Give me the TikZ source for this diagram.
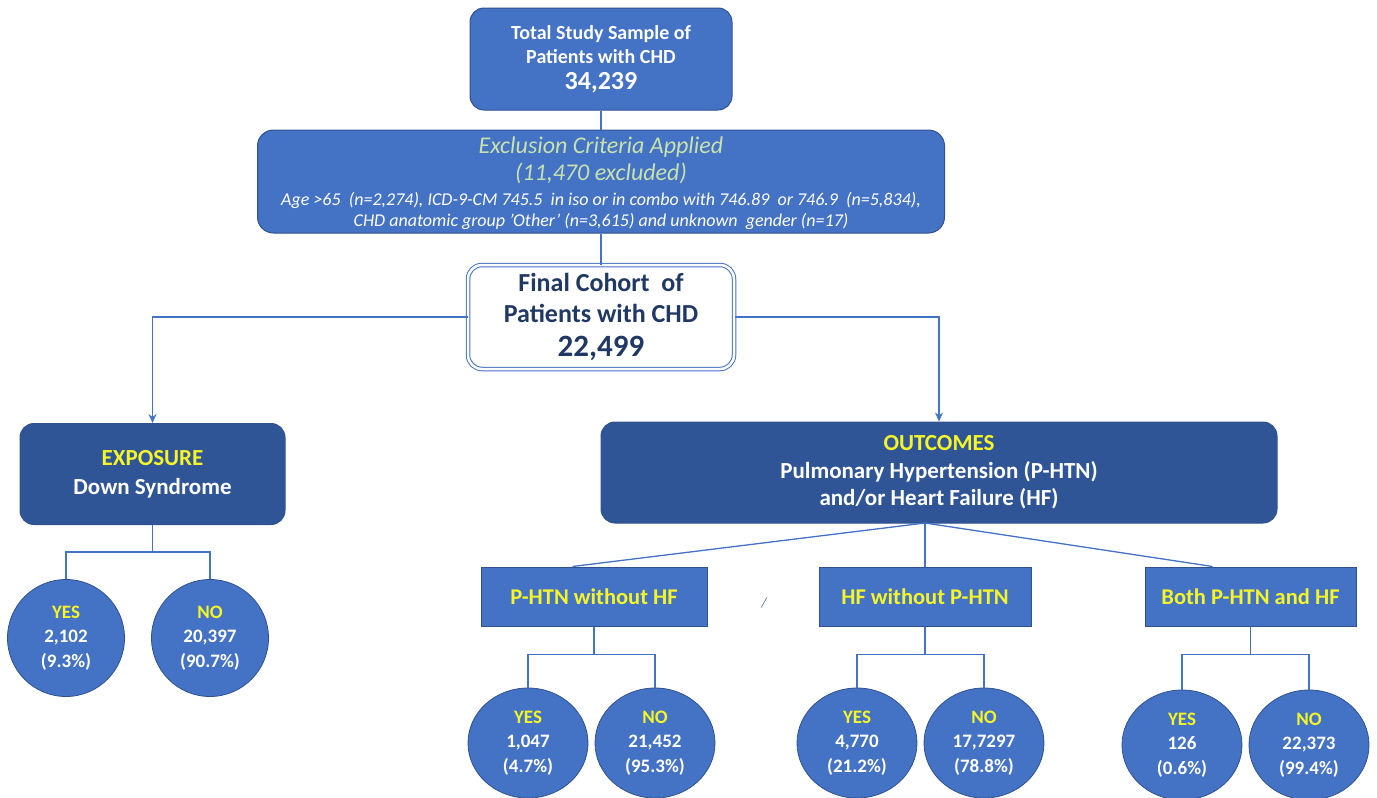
\documentclass[tikz,border=0pt]{standalone}
\usepackage{fontspec}
\setmainfont{Carlito}
\usetikzlibrary{shapes.geometric,arrows.meta,calc}
\definecolor{midblue}{HTML}{4472C4}
\definecolor{darkblue}{HTML}{2F5597}
\definecolor{bordblue}{HTML}{2F528F}
\definecolor{hiyellow}{RGB}{245,245,40}
\definecolor{exgreen}{RGB}{200,226,172}
\definecolor{navytext}{HTML}{203864}
\definecolor{slashgray}{HTML}{5A6E9A}
\begin{document}
\begin{tikzpicture}[x=1pt,y=-1pt,
  basebox/.style={draw=bordblue, line width=1pt, inner sep=0pt, align=center, text=white},
  midbox/.style={basebox, fill=midblue, rounded corners=14pt},
  darkbox/.style={basebox, fill=darkblue, rounded corners=14pt},
  subbox/.style={basebox, fill=midblue, minimum width=#1, minimum height=59pt,
     font=\fontsize{22.5}{26}\selectfont\bfseries, text=hiyellow},
  finalbox/.style={draw=midblue, double=white, double distance=2.5pt, line width=1pt,
     fill=white, rounded corners=14pt, inner sep=0pt, align=center, text=navytext},
  circ/.style={ellipse, draw=bordblue, line width=0.8pt, fill=midblue, inner sep=0pt,
     align=center, text=white, font=\fontsize{19}{24.5}\selectfont\bfseries},
  extitle/.style={anchor=base, inner sep=0pt, text=exgreen, font=\fontsize{24}{28}\selectfont\itshape},
  exline/.style={anchor=base, inner sep=0pt, text=white, font=\fontsize{18}{21}\selectfont\itshape},
  conn/.style={draw=midblue, line width=1.3pt},
  arr/.style={conn, -{Stealth[length=9pt,width=8pt]}}
]
\useasboundingbox (0,0) rectangle (1377,798);

% top box
\node[midbox, minimum width=262pt, minimum height=102pt,
      font=\fontsize{20}{24}\selectfont\bfseries] (top) at (601,59)
  {Total Study Sample of\\Patients with CHD\\[2pt]{\fontsize{26}{26}\selectfont 34,239}};

% exclusion box
\node[midbox, minimum width=687pt, minimum height=103pt, rounded corners=16pt] (excl) at (601,181.5) {};
\node[extitle] (ex1) at (601,153) {Exclusion Criteria Applied};
\node[extitle] (ex2) at (601,180) {(11,470 excluded)};
\node[exline] (ex3) at (601,205.5) {Age >65~ (n=2,274), ICD-9-CM 745.5~ in iso or in combo with 746.89~ or 746.9~ (n=5,834),};
\node[exline] (ex4) at (601,226.5) {CHD anatomic group 'Other' (n=3,615) and unknown~ gender (n=17)};

% final cohort
\node[finalbox, minimum width=266pt, minimum height=104pt,
      font=\fontsize{26}{31}\selectfont\bfseries] (final) at (601,317)
  {Final Cohort~ of\\Patients with CHD\\[3pt]{\fontsize{31}{31}\selectfont 22,499}};

% exposure and outcomes
\node[darkbox, minimum width=265pt, minimum height=101pt,
      font=\fontsize{23}{29}\selectfont\bfseries] (expo) at (152.5,474)
  {\textcolor{hiyellow}{EXPOSURE}\\Down Syndrome};
\node[darkbox, minimum width=676pt, minimum height=101pt,
      font=\fontsize{23}{27.5}\selectfont\bfseries] (outc) at (939,472.5)
  {\textcolor{hiyellow}{OUTCOMES}\\Pulmonary Hypertension (P-HTN)\\and/or Heart Failure (HF)};

% sub boxes
\node[subbox=226pt] (phtn) at (594,596.5) {P-HTN without HF};
\node[subbox=212pt] (hfb) at (925,596.5) {HF without P-HTN};
\node[subbox=211pt] (both) at (1250.5,596.5) {Both P-HTN and HF};
\node[font=\fontsize{14}{14}\selectfont\itshape, text=slashgray, inner sep=0pt] (slash) at (764,603) {/};

% exposure circles
\node[circ, minimum width=117pt, minimum height=117pt] (eyes) at (66,638)
  {\textcolor{hiyellow}{YES}\\2,102\\(9.3\%)};
\node[circ, minimum width=117pt, minimum height=117pt] (eno) at (210,638)
  {\textcolor{hiyellow}{NO}\\20,397\\(90.7\%)};

% outcome circles
\node[circ, minimum width=120pt, minimum height=110pt] (pyes) at (528,743)
  {\textcolor{hiyellow}{YES}\\1,047\\(4.7\%)};
\node[circ, minimum width=120pt, minimum height=110pt] (pno) at (655,743)
  {\textcolor{hiyellow}{NO}\\21,452\\(95.3\%)};
\node[circ, minimum width=120pt, minimum height=110pt] (hyes) at (857,743)
  {\textcolor{hiyellow}{YES}\\4,770\\(21.2\%)};
\node[circ, minimum width=120pt, minimum height=110pt] (hno) at (984,743)
  {\textcolor{hiyellow}{NO}\\17,7297\\(78.8\%)};
\node[circ, minimum width=120pt, minimum height=110pt] (byes) at (1182,745)
  {\textcolor{hiyellow}{YES}\\126\\(0.6\%)};
\node[circ, minimum width=120pt, minimum height=110pt] (bno) at (1309,745)
  {\textcolor{hiyellow}{NO}\\22,373\\(99.4\%)};

% connectors
\draw[conn] (top.south) -- (excl.north);
\draw[conn] (excl.south) -- (final.north);
\draw[arr] (final.west) -| (expo.north);
\draw[arr] (final.east) -| (outc.north);

\coordinate (eb) at ($(expo.south)+(0,27)$);
\draw[conn] (expo.south) -- (eb);
\draw[conn] (eyes.north) |- (eb) -| (eno.north);

\coordinate (ob) at (925,523);
\draw[conn] (ob) -- ([xshift=92pt]phtn.north west);
\draw[conn] (ob) -- (hfb.north);
\draw[conn] (ob) -- ([xshift=68pt]both.north west);

\coordinate (pb) at ($(phtn.south)+(0,28)$);
\draw[conn] (phtn.south) -- (pb);
\draw[conn] (pyes.north) |- (pb) -| (pno.north);
\coordinate (hb) at ($(hfb.south)+(0,28)$);
\draw[conn] (hfb.south) -- (hb);
\draw[conn] (hyes.north) |- (hb) -| (hno.north);
\coordinate (bb) at ($(both.south)+(0,28)$);
\draw[conn] (both.south) -- (bb);
\draw[conn] (byes.north) |- (bb) -| (bno.north);
\end{tikzpicture}
\end{document}
